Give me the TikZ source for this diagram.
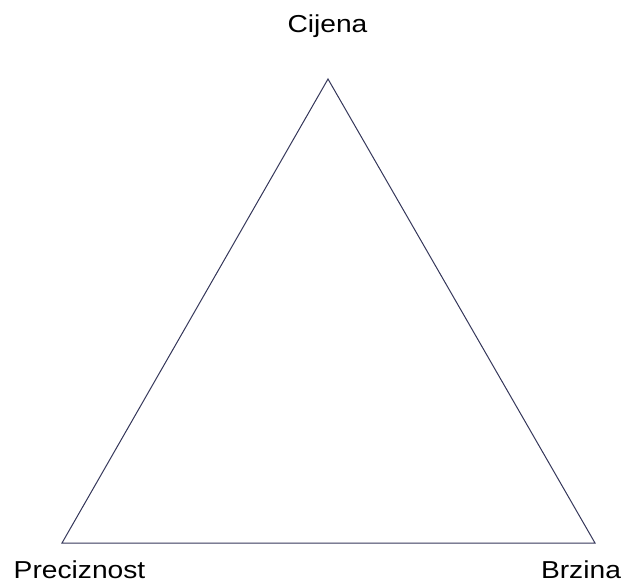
\documentclass[tikz,border=0pt]{standalone}
\usepackage{fontspec}
\newfontfamily\lblfont[FakeStretch=1.15]{Liberation Sans}
\definecolor{edgecol}{HTML}{35375A}
\tikzset{
  lbl/.style={font=\lblfont\fontsize{24.5}{28}\selectfont, text=black, inner sep=0pt, anchor=base},
  side/.style={draw=edgecol, line width=1pt, line join=miter}
}
\begin{document}
\begin{tikzpicture}[x=1pt,y=-1pt]
\useasboundingbox (0,0) rectangle (622,583);
\coordinate (top) at (328,79);
\coordinate (bl) at (62,543);
\coordinate (br) at (595,543);
\draw[side] (top) -- (bl) -- (br) -- cycle;
\node[lbl] (cijena) at (327.5,32.7) {Cijena};
\node[lbl] (prec) at (79.5,578) {Preciznost};
\node[lbl] (brz) at (581,578) {Brzina};
\end{tikzpicture}
\end{document}
